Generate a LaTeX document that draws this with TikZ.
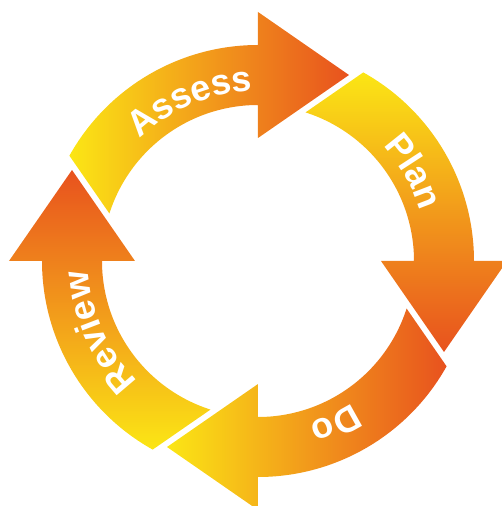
\documentclass[tikz,border=0pt]{standalone}
\usepackage{fontspec}
\setsansfont{Liberation Sans}
\usepackage{tikz}
\usetikzlibrary{decorations.text}
\definecolor{cycleyellow}{HTML}{FBE615}
\definecolor{cycleorange}{HTML}{F29A1B}
\definecolor{cyclered}{HTML}{E8521E}
\newcommand{\labelfont}{\fontsize{36}{36}\selectfont\sffamily\bfseries\color{white}}
\newcommand{\cyclearrow}[2]{%
  \path[#2] (#1:216) -- (#1:249) -- ({#1-26.07}:207.07) -- (#1:123) -- (#1:156)
    arc[start angle=#1, end angle={#1+72.27}, radius=156pt] -- ({#1+60.82}:216)
    arc[start angle={#1+60.82}, end angle=#1, radius=216pt] -- cycle;}
\newcommand{\cyclelabel}[2]{%
  \path[decorate, decoration={text along path, text align=center, text={|\labelfont|#2}}]
    ({#1+45}:170) arc[start angle={#1+45}, end angle={#1-45}, radius=170pt];}
\tikzset{
  shade lr/.style={left color=cycleyellow, right color=cyclered, middle color=cycleorange},
  shade tb/.style={top color=cycleyellow, bottom color=cyclered, middle color=cycleorange},
  shade bt/.style={top color=cyclered, bottom color=cycleyellow, middle color=cycleorange}
}

\begin{document}
\begin{tikzpicture}[x=1pt, y=1pt]
\useasboundingbox (-258,-245) rectangle (243,261);

\cyclearrow{90}{shade lr}
\cyclearrow{0}{shade tb}
\cyclearrow{-90}{shade lr}
\cyclearrow{180}{shade bt}

\cyclelabel{113}{Assess}
\cyclelabel{30}{Plan}
\cyclelabel{-64.5}{Do}
\cyclelabel{204}{Review}
\end{tikzpicture}
\end{document}
